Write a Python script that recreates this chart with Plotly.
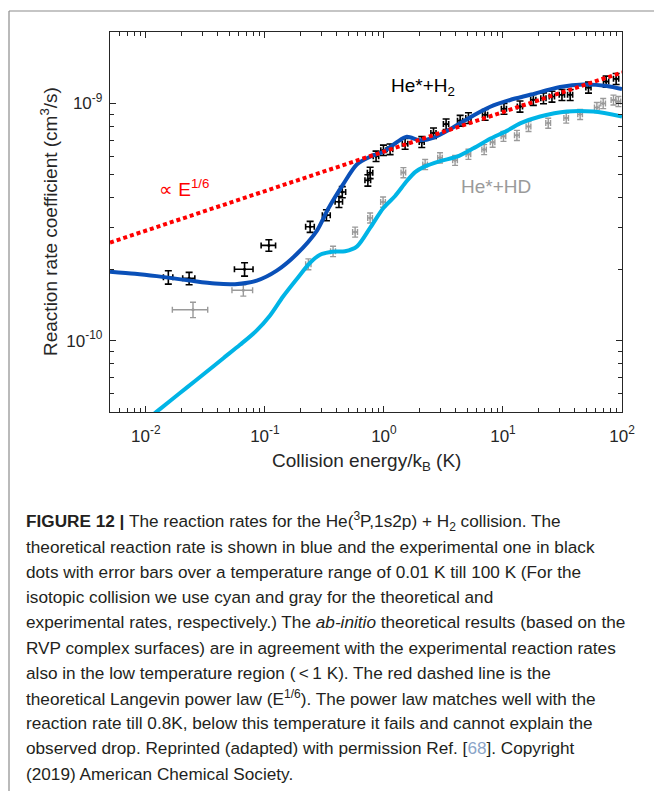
import plotly.graph_objects as go

# ---- measured rate coefficients, He* + H2 (black) ----
h2_energy = [0.01545, 0.0231, 0.0675, 0.108, 0.240, 0.329, 0.419, 0.447, 0.733, 0.766,
             0.859, 0.991, 1.127, 1.507, 2.08, 2.61, 3.33, 4.37, 5.13, 7.08,
             10.2, 13.9, 18.0, 21.9, 25.8, 31.3, 36.7, 52.3, 73.6, 89.3]
h2_rate = [1.85e-10, 1.83e-10, 2.00e-10, 2.52e-10, 3.02e-10, 3.38e-10, 3.85e-10, 4.23e-10, 4.74e-10, 5.10e-10,
           5.99e-10, 6.35e-10, 6.41e-10, 6.76e-10, 6.88e-10, 7.50e-10, 8.18e-10, 8.46e-10, 8.68e-10, 8.96e-10,
           9.50e-10, 9.71e-10, 1.036e-9, 1.052e-9, 1.069e-9, 1.087e-9, 1.087e-9, 1.167e-9, 1.237e-9, 1.269e-9]
h2_rate_err = [0.12e-10, 0.11e-10, 0.13e-10, 0.14e-10, 0.16e-10, 0.18e-10, 0.21e-10, 0.23e-10, 0.26e-10, 0.28e-10,
               0.30e-10, 0.32e-10, 0.33e-10, 0.35e-10, 0.36e-10, 0.38e-10, 0.42e-10, 0.44e-10, 0.45e-10, 0.47e-10,
               0.50e-10, 0.52e-10, 0.55e-10, 0.56e-10, 0.57e-10, 0.58e-10, 0.58e-10, 0.62e-10, 0.66e-10, 0.68e-10]
h2_energy_err = [0.0014, 0.0027, 0.012, 0.015, 0.02, 0.025, 0.03, 0.03, 0.04, 0.04,
                 0.045, 0.05, 0.06, 0.08, 0.1, 0.13, 0.17, 0.22, 0.26, 0.35,
                 0.5, 0.7, 0.9, 1.1, 1.3, 1.6, 1.8, 2.6, 3.7, 4.5]

# ---- measured rate coefficients, He* + HD (gray) ----
hd_energy = [0.0249, 0.0659, 0.232, 0.374, 0.573, 0.766, 0.984, 1.458, 2.22, 2.96,
             3.96, 5.13, 6.95, 8.19, 10.1, 13.1, 16.4, 24.0, 34.0, 44.5,
             61.5, 69.5, 84.8, 93.3]
hd_rate = [1.35e-10, 1.63e-10, 2.10e-10, 2.38e-10, 2.87e-10, 3.29e-10, 3.84e-10, 5.11e-10, 5.53e-10, 5.90e-10,
           5.76e-10, 6.11e-10, 6.39e-10, 6.86e-10, 7.27e-10, 7.34e-10, 8.00e-10, 8.26e-10, 8.68e-10, 8.99e-10,
           9.62e-10, 1.000e-9, 1.034e-9, 1.019e-9]
hd_rate_err = [0.10e-10, 0.09e-10, 0.11e-10, 0.12e-10, 0.14e-10, 0.16e-10, 0.19e-10, 0.25e-10, 0.27e-10, 0.29e-10,
               0.28e-10, 0.30e-10, 0.31e-10, 0.33e-10, 0.35e-10, 0.36e-10, 0.39e-10, 0.40e-10, 0.42e-10, 0.44e-10,
               0.47e-10, 0.49e-10, 0.50e-10, 0.50e-10]
hd_energy_err = [0.0082, 0.013, 0.012, 0.018, 0.027, 0.035, 0.045, 0.065, 0.1, 0.13,
                 0.18, 0.23, 0.3, 0.36, 0.45, 0.6, 0.75, 1.1, 1.5, 2.0,
                 2.8, 3.1, 3.8, 4.2]

# ---- ab-initio theory, He* + H2 (blue) ----
theory_h2_energy = [0.005, 0.00811, 0.01234, 0.0235, 0.0381, 0.0562, 0.0855, 0.1258, 0.1853, 0.273,
                    0.3396, 0.454, 0.5917, 0.7655, 0.990, 1.283, 1.557, 2.014, 2.590, 3.836,
                    5.65, 8.32, 11.49, 16.92, 30.2, 47.5, 74.6, 100.0]
theory_h2_rate = [1.953e-10, 1.915e-10, 1.87e-10, 1.79e-10, 1.739e-10, 1.73e-10, 1.79e-10, 1.972e-10, 2.317e-10, 2.902e-10,
                  3.589e-10, 4.557e-10, 5.53e-10, 5.96e-10, 6.256e-10, 6.86e-10, 7.23e-10, 6.99e-10, 7.16e-10, 7.93e-10,
                  8.90e-10, 9.81e-10, 1.034e-9, 1.087e-9, 1.172e-9, 1.201e-9, 1.184e-9, 1.149e-9]

# ---- ab-initio theory, He* + HD (cyan) ----
theory_hd_energy = [0.005, 0.01234, 0.01596, 0.02206, 0.03143, 0.04478, 0.06184, 0.0855, 0.1105, 0.1422,
                    0.1864, 0.2397, 0.2909, 0.3668, 0.4718, 0.5951, 0.7655, 0.990, 1.242, 1.557,
                    1.828, 2.147, 2.965, 4.097, 5.65, 7.80, 10.78, 13.93, 20.53, 34.42,
                    57.6, 100.0]
theory_hd_rate = [3.48e-11, 5.016e-11, 5.566e-11, 6.335e-11, 7.30e-11, 8.43e-11, 9.60e-11, 1.104e-10, 1.276e-10, 1.534e-10,
                  1.825e-10, 2.13e-10, 2.301e-10, 2.369e-10, 2.38e-10, 2.497e-10, 2.987e-10, 3.624e-10, 4.07e-10, 4.706e-10,
                  5.13e-10, 5.385e-10, 5.707e-10, 5.96e-10, 6.47e-10, 7.09e-10, 7.66e-10, 8.24e-10, 8.81e-10, 9.25e-10,
                  9.24e-10, 8.81e-10]

# ---- Langevin power law, k proportional to E^(1/6) (red dotted) ----
langevin_energy = [0.005, 100.0]
langevin_rate = [2.59e-10, 1.35e-9]

# ---- axis ticks ----
x_tick_vals = [0.01, 0.1, 1, 10, 100]
x_tick_text = ["10<sup>-2</sup>", "10<sup>-1</sup>", "10<sup>0</sup>", "10<sup>1</sup>", "10<sup>2</sup>"]
y_tick_vals = [1e-10, 1e-9]
y_tick_text = ["10<sup>-10</sup>", "10<sup>-9</sup>"]
x_minor_vals = [m * 10.0 ** p for p in range(-3, 2) for m in range(2, 10)]
y_minor_vals = [m * 10.0 ** p for p in range(-11, -8) for m in range(2, 10)]

caption_lines = [
    "<b>FIGURE 12 |</b> The reaction rates for the He(<sup>3</sup>P,1s2p) + H<sub>2</sub> collision. The",
    "theoretical reaction rate is shown in blue and the experimental one in black",
    "dots with error bars over a temperature range of 0.01 K till 100 K (For the",
    "isotopic collision we use cyan and gray for the theoretical and",
    "experimental rates, respectively.) The <i>ab-initio</i> theoretical results (based on the",
    "RVP complex surfaces) are in agreement with the experimental reaction rates",
    "also in the low temperature region (\u2009&lt;\u20091 K). The red dashed line is the",
    "theoretical Langevin power law (E<sup>1/6</sup>). The power law matches well with the",
    "reaction rate till 0.8K, below this temperature it fails and cannot explain the",
    "observed drop. Reprinted (adapted) with permission Ref. [<span style='color:#8aa4c8'>68</span>]. Copyright",
    "(2019) American Chemical Society.",
]

W, H = 654, 791
L, R, T, B = 110, 32, 32, 379
PW, PH = W - L - R, H - T - B


def px(x):
    return (x - L) / PW


def py(y):
    return (H - B - y) / PH


FONT = "Liberation Sans, Arial, Helvetica, sans-serif"
AX = "#262626"

fig = go.Figure()

fig.add_trace(go.Scatter(
    x=hd_energy, y=hd_rate, mode="markers",
    marker=dict(color="#9a9a9a", size=3),
    error_y=dict(type="data", array=hd_rate_err, color="#9a9a9a", thickness=1.4, width=3),
    error_x=dict(type="data", array=hd_energy_err, color="#9a9a9a", thickness=1.4, width=3),
    showlegend=False, hoverinfo="skip"))

fig.add_trace(go.Scatter(
    x=h2_energy, y=h2_rate, mode="markers",
    marker=dict(color="black", size=3),
    error_y=dict(type="data", array=h2_rate_err, color="black", thickness=1.6, width=3.5),
    error_x=dict(type="data", array=h2_energy_err, color="black", thickness=1.6, width=3),
    showlegend=False, hoverinfo="skip"))

fig.add_trace(go.Scatter(
    x=theory_hd_energy, y=theory_hd_rate, mode="lines",
    line=dict(color="#00b4e6", width=4, shape="spline", smoothing=0.8),
    showlegend=False, hoverinfo="skip"))

fig.add_trace(go.Scatter(
    x=theory_h2_energy, y=theory_h2_rate, mode="lines",
    line=dict(color="#0a50b8", width=4, shape="spline", smoothing=0.8),
    showlegend=False, hoverinfo="skip"))

fig.add_trace(go.Scatter(
    x=langevin_energy, y=langevin_rate, mode="lines",
    line=dict(color="#ff0000", width=4, dash="4px,3px"),
    showlegend=False, hoverinfo="skip"))

axis_common = dict(
    type="log", showgrid=False, zeroline=False,
    showline=True, linecolor=AX, linewidth=1.4, mirror="allticks",
    ticks="inside", ticklen=6, tickwidth=1.2, tickcolor=AX,
    tickfont=dict(family=FONT, size=17, color=AX),
    tickmode="array",
)

fig.update_xaxes(
    **axis_common,
    range=[-2.30103, 2.0],
    tickvals=x_tick_vals, ticktext=x_tick_text,
    ticklabelstandoff=8,
    minor=dict(tickmode="array", tickvals=x_minor_vals, ticks="inside", ticklen=3.5,
               tickwidth=1.1, tickcolor=AX, showgrid=False),
)
fig.update_yaxes(
    **axis_common,
    range=[-10.30103, -8.69897],
    tickvals=y_tick_vals, ticktext=y_tick_text,
    ticklabelstandoff=3,
    minor=dict(tickmode="array", tickvals=y_minor_vals, ticks="inside", ticklen=3.5,
               tickwidth=1.1, tickcolor=AX, showgrid=False),
)

ann = []
# axis titles
ann.append(dict(text="Collision energy/k<sub>B</sub> (K)", x=px(366), y=py(462),
                xref="paper", yref="paper", showarrow=False, xanchor="center", yanchor="middle",
                font=dict(family=FONT, size=19, color=AX)))
ann.append(dict(text="Reaction rate coefficient (cm<sup>3</sup>/s)", x=px(49), y=py(222),
                xref="paper", yref="paper", showarrow=False, xanchor="center", yanchor="middle",
                textangle=-90, font=dict(family=FONT, size=19, color=AX)))
# in-plot labels
ann.append(dict(text="He*+H<sub>2</sub>", x=px(389), y=py(87),
                xref="paper", yref="paper", showarrow=False, xanchor="left", yanchor="middle",
                font=dict(family=FONT, size=19, color="black")))
ann.append(dict(text="He*+HD", x=px(459), y=py(186),
                xref="paper", yref="paper", showarrow=False, xanchor="left", yanchor="middle",
                font=dict(family=FONT, size=19, color="#9a9a9a")))
ann.append(dict(text="\u221d E<sup>1/6</sup>", x=px(157), y=py(188),
                xref="paper", yref="paper", showarrow=False, xanchor="left", yanchor="middle",
                font=dict(family=FONT, size=19, color="#ff0000")))

# caption
for i, line in enumerate(caption_lines):
    ann.append(dict(text=line, x=px(24), y=py(521.5 + 25.2 * i),
                    xref="paper", yref="paper", showarrow=False, xanchor="left", yanchor="middle",
                    align="left",
                    font=dict(family=FONT, size=17.2, color="#231f20")))

fig.update_layout(
    width=W, height=H,
    margin=dict(l=L, r=R, t=T, b=B, pad=0),
    paper_bgcolor="white", plot_bgcolor="white",
    annotations=ann,
    shapes=[
        dict(type="line", xref="paper", yref="paper", x0=px(9), x1=px(700), y0=py(11), y1=py(11),
             line=dict(color="#8c8c8c", width=1.2)),
        dict(type="line", xref="paper", yref="paper", x0=px(9), x1=px(9), y0=py(11), y1=py(850),
             line=dict(color="#8c8c8c", width=1.2)),
    ],
)

fig.write_html("out.html")
